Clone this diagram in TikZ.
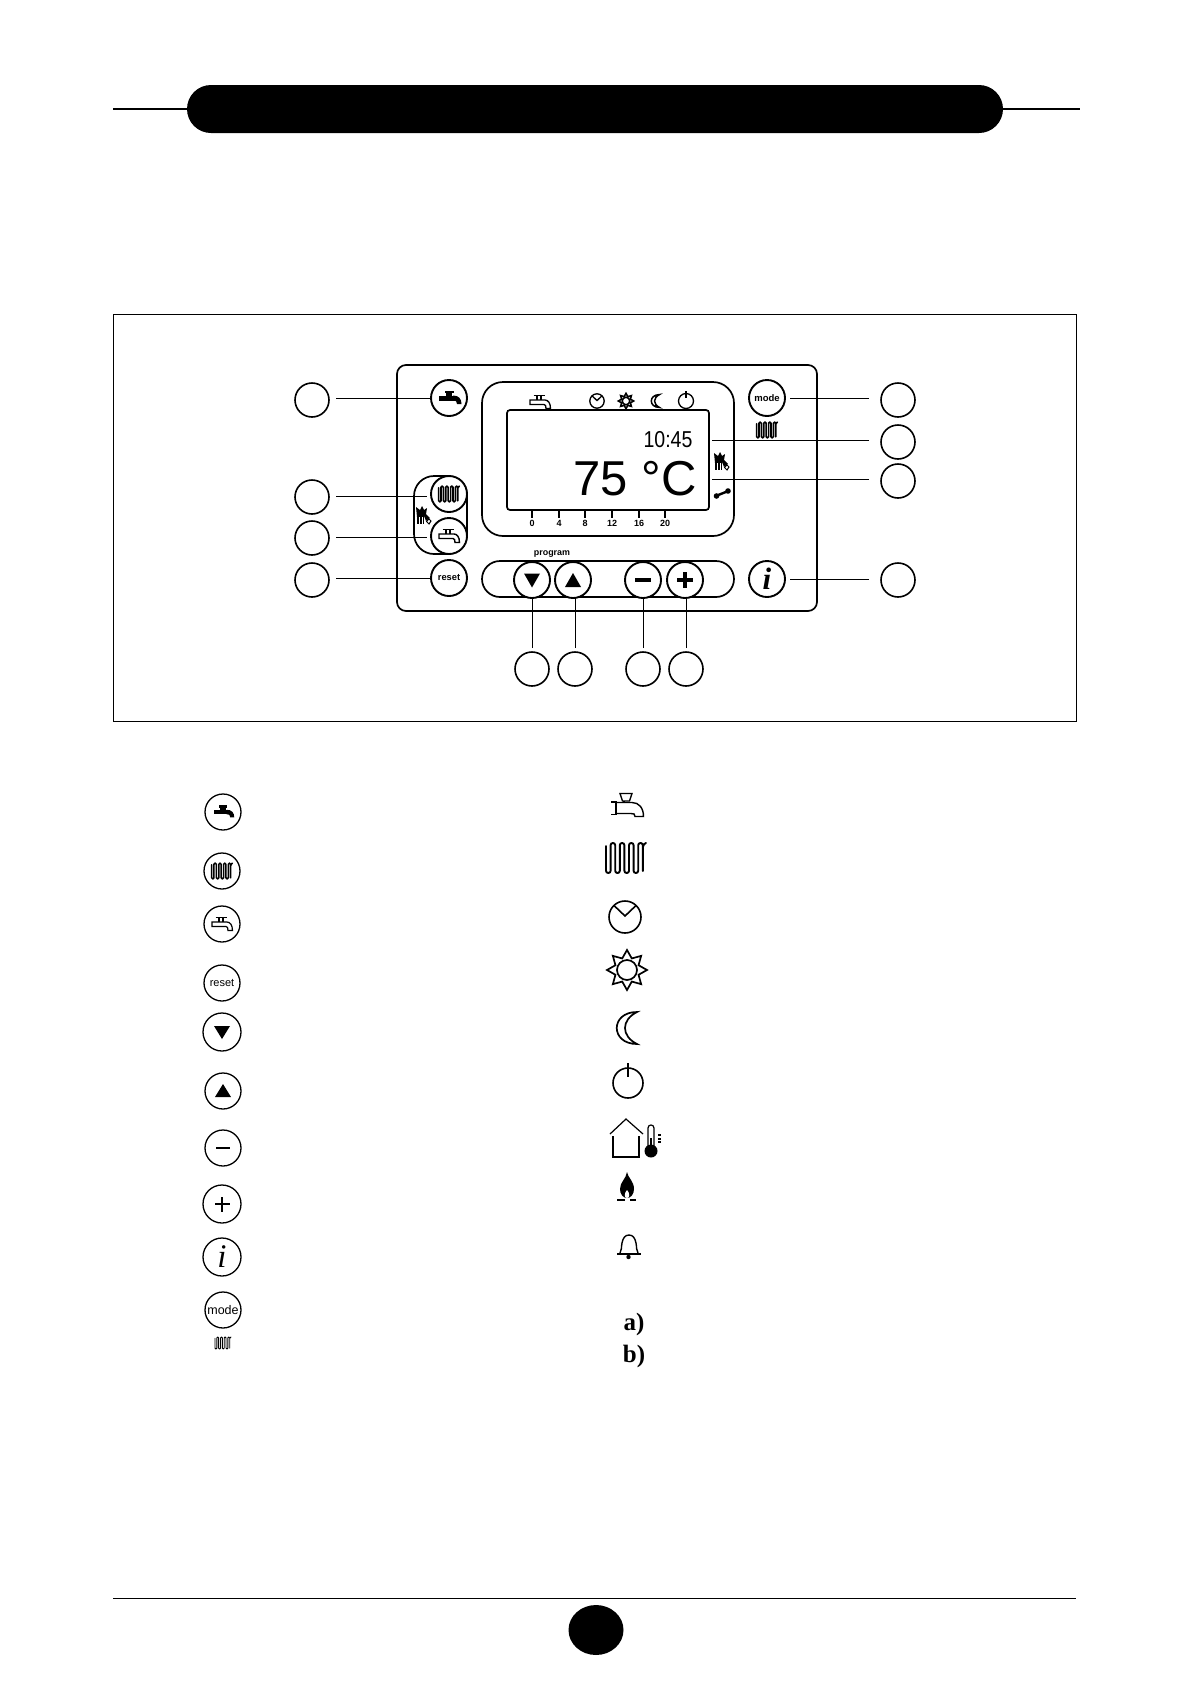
\documentclass[tikz,border=0pt]{standalone}
\usetikzlibrary{shapes.geometric}
\usepackage{fontspec}
\setmainfont{Liberation Sans}
\newfontfamily\serifbf{Liberation Serif}
\newcommand{\fpx}[1]{\fontsize{#1}{#1}\selectfont}
\tikzset{
  x=1pt,y=-1pt,
  callout/.style={circle,draw,line width=1.6pt,minimum size=34pt,inner sep=0pt,outer sep=0pt},
  btn/.style={circle,draw,line width=1.9pt,minimum size=36pt,inner sep=0pt,outer sep=0pt,fill=white},
  legbtn/.style={circle,draw,line width=1.3pt,minimum size=36pt,inner sep=0pt,outer sep=0pt},
  leader/.style={line width=1pt},
  panelline/.style={draw,line width=1.7pt,inner sep=0pt},
  tick/.style={line width=1.3pt},
  scalelab/.style={inner sep=0pt,font=\bfseries\fpx{9}},
  tapsolid/.pic={
    \fill (-10,-2.5) rectangle (8,2.5);
    \fill (-3,-5) rectangle (3,0);
    \fill (-4.5,-7.5) rectangle (4.5,-5);
    \fill (4,-2.5) .. controls (10,-2.5) and (12.5,1) .. (12.5,6) -- (8,6) .. controls (8,3) and (7,2.5) .. (4,2.5) -- cycle;
  },
  tapoutline/.pic={
    \draw[pic actions] (-6,-11.5) -- (6,-11.5) -- (3.5,-4) -- (-3.5,-4) -- cycle;
    \draw[pic actions] (-15,-3) -- (-10,-3) -- (-10,9.5) -- (-15,9.5);
    \draw[pic actions] (-2,-4) -- (-2,-2.5);
    \draw[pic actions] (-10,-2.5) -- (6,-2.5) .. controls (13,-2.5) and (17.5,3) .. (17.5,11.5) -- (9,11.5) .. controls (9,9) and (8,8.5) .. (5,8.5) -- (-10,8.5);
  },
  tapflat/.pic={
    \draw[pic actions] (-6.5,-6.5) -- (4.5,-6.5);
    \draw[pic actions] (-3,-6.5) -- (-3,-2) (1,-6.5) -- (1,-2);
    \draw[pic actions] (-10,-2) -- (5,-2) .. controls (8,-2) and (10.5,1) .. (10.5,6.5) -- (6,6.5) .. controls (6,4) and (5.5,2.5) .. (4,2.5) -- (-10,2.5) -- cycle;
  },
  radiator/.pic={
    \draw[pic actions,line cap=round]
      (-20,-12) -- (-20,15) -- (-15.4,15) -- (-15.4,-15) -- (-10.8,-15) -- (-10.8,15) -- (-6.2,15) -- (-6.2,-15)
      -- (-1.6,-15) -- (-1.6,15) -- (3,15) -- (3,-15) -- (7.6,-15) -- (7.6,15) -- (12.2,15) -- (12.2,-15)
      -- (16.8,-15) -- (16.8,13) (16.8,-10) -- (17.6,-14) -- (20,-15);
  },
  clockicon/.pic={
    \draw[pic actions] (0,0) circle[radius=16];
    \draw[pic actions] (-11,-11.5) -- (0,-1) -- (11,-11.5);
  },
  sunicon/.pic={
    \draw[pic actions,fill=white] (0:20) -- (22.5:12.5) -- (45:20) -- (67.5:12.5) -- (90:20) -- (112.5:12.5) -- (135:20) -- (157.5:12.5)
      -- (180:20) -- (202.5:12.5) -- (225:20) -- (247.5:12.5) -- (270:20) -- (292.5:12.5) -- (315:20) -- (337.5:12.5) -- cycle;
    \draw[pic actions] (0,0) circle[radius=10];
  },
  moonicon/.pic={
    \draw[pic actions] (11,-16) .. controls (-16,-16) and (-16,16) .. (11,16) .. controls (-5,8) and (-5,-8) .. (11,-16) -- cycle;
  },
  powericon/.pic={
    \draw[pic actions] (0,0) circle[radius=15];
    \draw[pic actions] (0,-20) -- (0,-6);
  },
  wrenchicon/.pic={
    \draw[line width=2.4pt] (-5,2.5) -- (5,-1.5);
    \fill (-5.5,3) circle[radius=2.8];
    \fill (6,-2) circle[radius=2.8];
  },
  heatglyph/.pic={
    \fill (-6,-4) rectangle (1,8);
    \fill (-7,-9) -- (-3,-6) -- (-1,-10) -- (1,-6) -- (4,-8) -- (3,-2) -- (7,2) -- (3,5) -- (1,0) -- (-6,1) -- cycle;
    \draw[line width=1pt,fill=white] (6,3) -- (8,5) -- (6,8) -- (3.5,5.5) -- cycle;
    \draw[white,line width=.8pt] (-3.5,1) -- (-3.5,8) (-1,1) -- (-1,8);
  }
}
\begin{document}
\begin{tikzpicture}
\useasboundingbox (0,0) rectangle (1191,1684);
% header
\coordinate (hl) at (113,109);
\coordinate (hr) at (1080,109);
\draw[line width=1.2pt] (hl) -- (hr);
\node[fill=black,rounded corners=24pt,minimum width=816pt,minimum height=48pt,inner sep=0pt] (head) at (595,109) {};
% frame
\node[draw,line width=1pt,minimum width=963pt,minimum height=407pt,inner sep=0pt] (frame) at (594.5,517.5) {};
% panel outlines
\node[panelline,rounded corners=9pt,minimum width=420pt,minimum height=246pt] (panel) at (607,488) {};
\node[panelline,rounded corners=21pt,minimum width=252pt,minimum height=154pt] (disp) at (608,459) {};
\node[panelline,rounded corners=3pt,minimum width=202pt,minimum height=100pt] (screen) at (608,460) {};
\node[panelline,rounded corners=18pt,minimum width=252pt,minimum height=36pt] (bar) at (608,579) {};
\node[panelline,rounded corners=20pt,minimum width=53pt,minimum height=78pt] (caps) at (440.5,515) {};
% buttons
\node[btn] (btap) at (449,398) {};
\node[btn] (bheat) at (449,494) {};
\node[btn] (btap2) at (449,536) {};
\node[btn,font=\bfseries\fpx{9.3}] (breset) at (449,578) {reset};
\node[btn] (bdown) at (532,580) {};
\node[btn] (bup) at (573,580) {};
\node[btn] (bminus) at (643,580) {};
\node[btn] (bplus) at (685,580) {};
\node[btn,font=\serifbf\bfseries\itshape\fpx{31}] (binfo) at (767,579) {i};
\node[btn,font=\bfseries\fpx{9.5}] (bmode) at (767,398) {mode};
% button glyphs
\pic at (btap) {tapsolid};
\pic[scale=.52,line width=1.6pt,rounded corners=1.1pt] at (bheat) {radiator};
\pic[line width=1.4pt] at (btap2) {tapflat};
\fill ([xshift=-8pt,yshift=6.5pt]bdown.center) -- ([xshift=8pt,yshift=6.5pt]bdown.center) -- ([yshift=-7.5pt]bdown.center) -- cycle;
\fill ([xshift=-8pt,yshift=-7pt]bup.center) -- ([xshift=8pt,yshift=-7pt]bup.center) -- ([yshift=7pt]bup.center) -- cycle;
\fill ([xshift=-8pt,yshift=-1.7pt]bminus.center) rectangle ([xshift=8pt,yshift=1.7pt]bminus.center);
\fill ([xshift=-8pt,yshift=-1.7pt]bplus.center) rectangle ([xshift=8pt,yshift=1.7pt]bplus.center);
\fill ([xshift=-1.7pt,yshift=-8pt]bplus.center) rectangle ([xshift=1.7pt,yshift=8pt]bplus.center);
% display icons
\pic[line width=1.3pt] at (540,402) {tapflat};
\pic[scale=.45,line width=1.3pt] at (597,401) {clockicon};
\pic[scale=.38,line width=1.6pt] at (626,401) {sunicon};
\pic[scale=.4,line width=1.5pt] at (655,401) {moonicon};
\pic[scale=.5,line width=1.3pt] at (686,401) {powericon};
\pic[scale=.52,line width=1.6pt,rounded corners=1.1pt] at (767,430) {radiator};
\pic at (721,462) {heatglyph};
\pic at (423,516) {heatglyph};
\pic at (722,493) {wrenchicon};
% display text
\node[inner sep=0pt,font=\fpx{23},xscale=.85] (tclock) at (668,440) {10:45};
\node[inner sep=0pt,font=\fpx{49}] (ttemp) at (635,479) {75 °C};
\node[inner sep=0pt,font=\bfseries\fpx{8.9}] (tprog) at (552,554) {program};
% scale
\foreach \nm/\px/\lab in {s0/532/0,s4/559/4,s8/585/8,s12/612/12,s16/639/16,s20/665/20}{
  \coordinate (\nm top) at (\px,510);
  \coordinate (\nm bot) at (\px,518);
  \draw[tick] (\nm top) -- (\nm bot);
  \node[scalelab] (\nm) at (\px,523.5) {\lab};
}
% callouts
\node[callout] (c1) at (312,400) {};
\node[callout] (c2) at (312,497) {};
\node[callout] (c3) at (312,538) {};
\node[callout] (c4) at (312,580) {};
\node[callout] (c5) at (898,400) {};
\node[callout] (c6) at (898,442) {};
\node[callout] (c7) at (898,481) {};
\node[callout] (c8) at (898,580) {};
\node[callout] (c9) at (532,669) {};
\node[callout] (c10) at (575,669) {};
\node[callout] (c11) at (643,669) {};
\node[callout] (c12) at (686,669) {};
% leaders
\draw[leader,shorten <=7pt] (btap.west -| c1.east) -- (btap.west);
\draw[leader,shorten <=7pt,shorten >=4pt] (c2.east |- 0,496) -- (bheat.west |- 0,496);
\draw[leader,shorten <=7pt,shorten >=4pt] (c3.east |- 0,537) -- (btap2.west |- 0,537);
\draw[leader,shorten <=7pt] (breset.west -| c4.east) -- (breset.west);
\draw[leader,shorten <=12pt,shorten >=5pt] (bmode.east -| c5.west) -- (bmode.east);
\draw[leader,shorten <=12pt,shorten >=2pt] (c6.west |- 0,440) -- (screen.east |- 0,440);
\draw[leader,shorten <=12pt,shorten >=2pt] (c7.west |- 0,479) -- (screen.east |- 0,479);
\draw[leader,shorten <=12pt,shorten >=5pt] (binfo.east -| c8.west) -- (binfo.east);
\draw[leader,shorten <=4pt] (c9.north -| bdown.south) -- (bdown.south);
\draw[leader,shorten <=4pt] (c10.north) -- (c10.north |- bup.south);
\draw[leader,shorten <=4pt] (c11.north) -- (c11.north |- bminus.south);
\draw[leader,shorten <=4pt] (c12.north) -- (c12.north |- bplus.south);
% legend left
\node[legbtn] (l1) at (223,812) {};
\node[legbtn] (l2) at (222,871) {};
\node[legbtn] (l3) at (222,924) {};
\node[legbtn,font=\fpx{11}] (l4) at (222,983) {reset};
\node[legbtn,minimum size=38pt] (l5) at (222,1032) {};
\node[legbtn] (l6) at (223,1091) {};
\node[legbtn] (l7) at (223,1148) {};
\node[legbtn,minimum size=38pt] (l8) at (222,1204) {};
\node[legbtn,minimum size=38pt,font=\serifbf\itshape\fpx{33}] (l9) at (222,1257) {i};
\node[legbtn,font=\fpx{12.5}] (l10) at (223,1310) {mode};
\pic[scale=.9] at (l1) {tapsolid};
\pic[scale=.52,line width=1.5pt,rounded corners=1.1pt] at (l2) {radiator};
\pic[line width=1.2pt] at (l3) {tapflat};
\fill ([xshift=-8pt,yshift=6pt]l5.center) -- ([xshift=8pt,yshift=6pt]l5.center) -- ([yshift=-7pt]l5.center) -- cycle;
\fill ([xshift=-8pt,yshift=-6pt]l6.center) -- ([xshift=8pt,yshift=-6pt]l6.center) -- ([yshift=7pt]l6.center) -- cycle;
\fill ([xshift=-7pt,yshift=-1pt]l7.center) rectangle ([xshift=7pt,yshift=1pt]l7.center);
\fill ([xshift=-7.5pt,yshift=-1.4pt]l8.center) rectangle ([xshift=7.5pt,yshift=1.4pt]l8.center);
\fill ([xshift=-1.4pt,yshift=-7.5pt]l8.center) rectangle ([xshift=1.4pt,yshift=7.5pt]l8.center);
\pic[scale=.4,line width=.9pt,rounded corners=.9pt] at (223,1343) {radiator};
% legend right
\pic[line width=1.4pt] at (626,805) {tapoutline};
\pic[line width=1.9pt,rounded corners=2.2pt] at (626,858) {radiator};
\pic[line width=1.6pt] at (625,917) {clockicon};
\pic[line width=1.7pt] at (627,970) {sunicon};
\pic[line width=1.7pt] at (626,1028) {moonicon};
\pic[line width=1.6pt] at (628,1083) {powericon};
% house
\coordinate (hpeak) at (626,1119);
\draw[line width=1.2pt] (610,1134) -- (hpeak) -- (643,1134);
\draw[line width=1.2pt] (613,1136) -- (613,1157) -- (639,1157) -- (639,1136);
\draw[line width=1.2pt] (648,1148) -- (648,1128) .. controls (648,1124) and (654,1124) .. (654,1128) -- (654,1148);
\fill (651,1151) circle[radius=6.5];
\fill (650,1138) rectangle (652,1148);
\foreach \yy in {1134,1137.5,1141}{\fill (657.5,\yy) rectangle (660.5,\yy+2);}
% flame
\fill (627,1172) .. controls (628,1178) and (634,1181) .. (634,1189) .. controls (634,1194) and (631,1198) .. (627,1198)
  .. controls (623,1198) and (620,1194) .. (620,1189) .. controls (620,1182) and (626,1179) .. (627,1172) -- cycle;
\fill[white] (627,1190) .. controls (630,1193) and (630,1198) .. (627,1198) .. controls (624,1198) and (624,1193) .. (627,1190) -- cycle;
\draw[line width=1.2pt] (617,1200) -- (625,1200) (630,1200) -- (636,1200);
% bell
\draw[line width=1.4pt] (620,1253) .. controls (622,1250) and (621,1248) .. (622,1243) .. controls (623,1238) and (625,1235) .. (629,1235)
  .. controls (633,1235) and (635,1238) .. (636,1243) .. controls (637,1248) and (636,1250) .. (638,1253);
\draw[line width=1.6pt] (617,1254) -- (641,1254);
\fill (628.5,1257) circle[radius=2.2];
% a b
\node[inner sep=0pt,font=\serifbf\bfseries\fpx{25}] (ta) at (634,1324) {a)};
\node[inner sep=0pt,font=\serifbf\bfseries\fpx{25}] (tb) at (634,1356) {b)};
% footer
\coordinate (fl) at (113,1598);
\coordinate (fr) at (1076,1598);
\draw[line width=1pt] (fl) -- (fr);
\node[ellipse,fill=black,minimum width=55pt,minimum height=50pt,inner sep=0pt] (pg) at (596,1630) {};
\end{tikzpicture}
\end{document}
